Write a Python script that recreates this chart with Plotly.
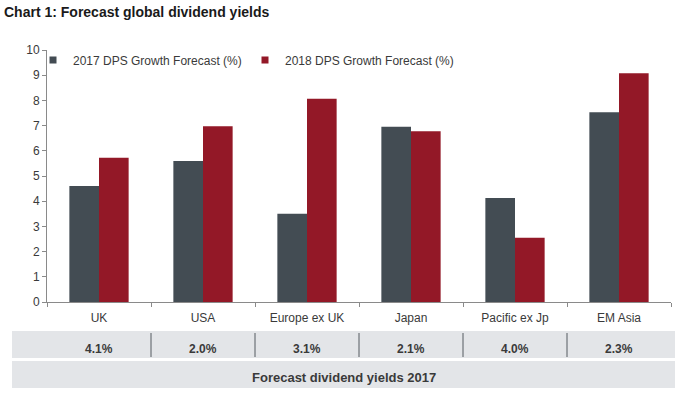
import plotly.graph_objects as go

categories = ["UK", "USA", "Europe ex UK", "Japan", "Pacific ex Jp", "EM Asia"]
dps_2017 = [4.6, 5.6, 3.5, 6.95, 4.13, 7.53]
dps_2018 = [5.72, 6.97, 8.07, 6.78, 2.55, 9.08]
yield_2017 = ["4.1%", "2.0%", "3.1%", "2.1%", "4.0%", "2.3%"]
series_names = ["2017 DPS Growth Forecast (%)", "2018 DPS Growth Forecast (%)"]
table_title = "Forecast dividend yields 2017"
chart_title = "Chart 1: Forecast global dividend yields"

C_DARK = "#434c53"
C_RED = "#931827"
BAND = "#e3e5e8"
TXT = "#3a3a3a"
AX = "#8a8a8a"
FONT = "Liberation Sans, Arial, sans-serif"

W, H = 696, 395
L, R, T, B = 47, 25, 50, 93
pw, ph = W - L - R, H - T - B


def py(ypx):
    return (H - B - ypx) / ph


def px(xpx):
    return (xpx - L) / pw


fig = go.Figure()
fig.add_trace(go.Bar(x=categories, y=dps_2017, name=series_names[0],
                     marker=dict(color=C_DARK, line=dict(width=0)), showlegend=False))
fig.add_trace(go.Bar(x=categories, y=dps_2018, name=series_names[1],
                     marker=dict(color=C_RED, line=dict(width=0)), showlegend=False))
# legend entries with small square markers
for nm, col, lg in zip(series_names, [C_DARK, C_RED], ["legend", "legend2"]):
    fig.add_trace(go.Scatter(x=[None], y=[None], mode="markers", name=nm, legend=lg,
                             marker=dict(symbol="square", size=7, color=col)))

shapes = []
# table bands
shapes.append(dict(type="rect", xref="paper", yref="paper", x0=px(12), x1=px(675),
                   y0=py(358), y1=py(331), fillcolor=BAND, line=dict(width=0), layer="below"))
shapes.append(dict(type="rect", xref="paper", yref="paper", x0=px(12), x1=px(675),
                   y0=py(388), y1=py(361), fillcolor=BAND, line=dict(width=0), layer="below"))
for k in range(1, len(categories)):
    xp = k / len(categories)
    shapes.append(dict(type="line", xref="paper", yref="paper", x0=xp, x1=xp,
                       y0=py(357), y1=py(333), line=dict(color="#555a60", width=1)))

annotations = []
for c, v in zip(categories, yield_2017):
    annotations.append(dict(x=c, xref="x", y=py(349), yref="paper", text="<b>" + v + "</b>",
                            showarrow=False, font=dict(family=FONT, size=12, color=TXT),
                            xanchor="center", yanchor="middle"))
annotations.append(dict(x=0.5 * (px(12) + px(675)), xref="paper", y=py(377), yref="paper",
                        text="<b>" + table_title + "</b>", showarrow=False,
                        font=dict(family=FONT, size=13, color=TXT),
                        xanchor="center", yanchor="middle"))

leg_common = dict(orientation="h", xanchor="left", yanchor="middle",
                  font=dict(family=FONT, size=12, color=TXT), bgcolor="rgba(0,0,0,0)",
                  itemwidth=30)

fig.update_layout(
    width=W, height=H,
    margin=dict(l=L, r=R, t=T, b=B),
    paper_bgcolor="white", plot_bgcolor="white",
    barmode="group", bargap=0.43, bargroupgap=0,
    font=dict(family=FONT, size=12, color=TXT),
    title=dict(text="<b>" + chart_title + "</b>", x=4 / W, xanchor="left",
               y=1 - 12 / H, yanchor="middle", yref="container",
               font=dict(family=FONT, size=14, color="#1a1a1a")),
    legend=dict(x=px(33), y=py(60), **leg_common),
    legend2=dict(x=px(245), y=py(60), **leg_common),
    xaxis=dict(showline=True, linecolor=AX, linewidth=1, ticks="outside",
               tickson="boundaries", ticklen=4, tickcolor=AX, showgrid=False,
               ticklabelstandoff=5,
               tickfont=dict(family=FONT, size=12, color=TXT), range=[-0.5, 5.5]),
    yaxis=dict(range=[0, 10], dtick=1, showline=True, linecolor=AX, linewidth=1,
               ticks="outside", ticklen=4, tickcolor=AX, showgrid=False, zeroline=False,
               tickfont=dict(family=FONT, size=12, color=TXT)),
    shapes=shapes, annotations=annotations,
)

fig.write_html("out.html", config={"displayModeBar": False},
               post_script="document.body.style.margin='0';document.body.style.overflow='hidden';")
